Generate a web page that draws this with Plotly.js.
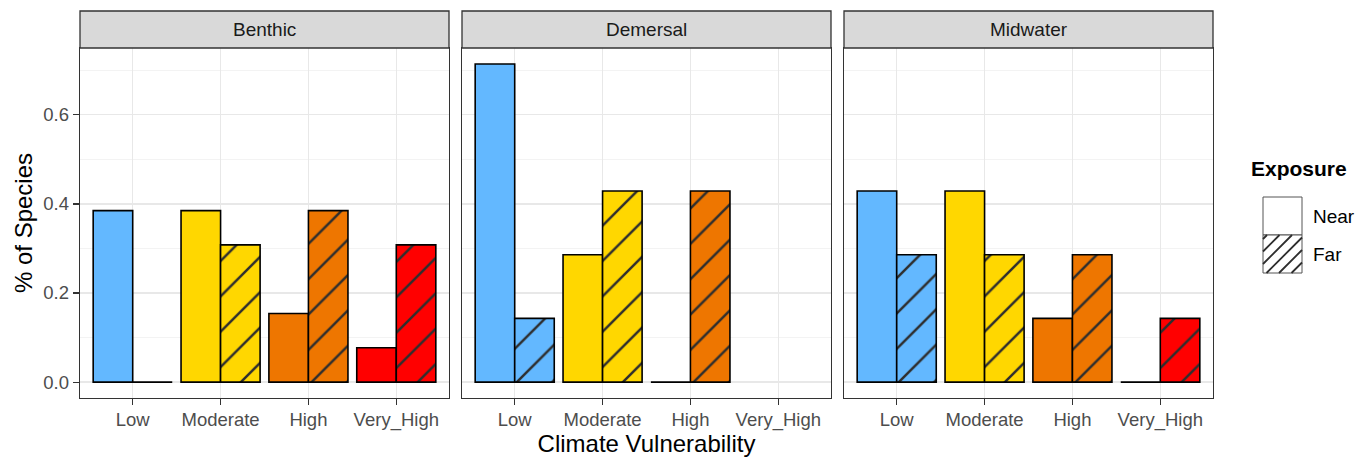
<!DOCTYPE html>
<html><head><meta charset="utf-8">
<script src="https://cdn.plot.ly/plotly-3.0.1.min.js"></script>
<style>html,body{margin:0;padding:0;background:#fff}#chart{width:1369px;height:457px}</style>
</head><body><div id="chart"></div>
<script>
// ---- data ----
const categories = ["Low", "Moderate", "High", "Very_High"];
const panels = ["Benthic", "Demersal", "Midwater"];
const exposures = ["Near", "Far"];
const benthicNear  = [0.385, 0.385, 0.154, 0.077];
const benthicFar   = [0.000, 0.308, 0.385, 0.308];
const demersalNear = [0.714, 0.286, 0.000, null];
const demersalFar  = [0.143, 0.429, 0.429, null];
const midwaterNear = [0.429, 0.429, 0.143, 0.000];
const midwaterFar  = [0.286, 0.286, 0.286, 0.143];
const categoryColors = ["#63B8FF", "#FFD700", "#EE7600", "#FF0000"];
const yTickVals = [0, 0.2, 0.4, 0.6];
const yMinorVals = [0.1, 0.3, 0.5, 0.7];

const panelValues = [
  [benthicNear, benthicFar],
  [demersalNear, demersalFar],
  [midwaterNear, midwaterFar]
];

// ---- layout constants ----
const W = 1369, H = 457;
const M = {l: 80, r: 156, t: 11, b: 59};
const PW = W - M.l - M.r, PH = H - M.t - M.b;
const px2x = px => (px - M.l) / PW;
const px2y = py => (H - M.b - py) / PH;
const panelPx = [[80, 449], [462, 831], [844, 1213]];
const stripBottom = 48;
const plotTopPaper = px2y(stripBottom);

const FONT = "Liberation Sans, Arial, sans-serif";
const barWidth = 0.45;
const offsets = [-barWidth / 2, barWidth / 2];
const HATCH = "#2E2E2E";

const traces = [];
panels.forEach((panel, k) => {
  const sfx = k === 0 ? "" : String(k + 1);
  exposures.forEach((exp, e) => {
    const vals = panelValues[k][e];
    // one trace per category so each bar has a scalar fill (needed for explicit hatch colours)
    categories.forEach((cat, i) => {
      const v = vals[i];
      if (v === null || v === undefined) return;
      const xPos = i + 1 + offsets[e];
      if (v === 0) {
        // zero-height bar: ggplot still draws its flat outline
        traces.push({
          type: "scatter", mode: "lines",
          x: [xPos - barWidth / 2, xPos + barWidth / 2], y: [v, v],
          xaxis: "x" + sfx, yaxis: "y" + sfx, showlegend: false, hoverinfo: "skip",
          line: {color: "#000000", width: 1.8}, cliponaxis: false
        });
        return;
      }
      traces.push({
        type: "bar",
        name: exp + " - " + cat,
        x: [xPos],
        y: [v],
        width: barWidth,
        xaxis: "x" + sfx,
        yaxis: "y" + sfx,
        showlegend: false,
        hoverinfo: "y",
        marker: {
          color: categoryColors[i],
          line: {color: "#000000", width: 1.6},
          pattern: e === 1
            ? {shape: "/", size: 25, solidity: 0.1, fgcolor: HATCH, bgcolor: categoryColors[i], fgopacity: 1, fillmode: "replace"}
            : {shape: ""}
        }
      });
    });
  });
});

const layout = {
  width: W, height: H,
  margin: M,
  paper_bgcolor: "#ffffff",
  plot_bgcolor: "#ffffff",
  font: {family: FONT, color: "#000000"},
  barmode: "overlay",
  showlegend: false,
  shapes: [],
  annotations: []
};

const yRange = [-0.0357, 0.75];
panels.forEach((panel, k) => {
  const sfx = k === 0 ? "" : String(k + 1);
  const dom = [px2x(panelPx[k][0]), px2x(panelPx[k][1])];
  layout["xaxis" + sfx] = {
    domain: dom,
    anchor: "y" + sfx,
    range: [0.4, 4.6],
    tickvals: categories.map((c, i) => i + 1),
    ticktext: categories,
    ticks: "outside", ticklen: 6, tickwidth: 1.2, tickcolor: "#333333",
    ticklabelstandoff: -2,
    tickfont: {family: FONT, size: 18.5, color: "#4D4D4D"},
    showgrid: true, gridcolor: "#E8E8E8", gridwidth: 1.3,
    zeroline: false,
    showline: true, mirror: true, linecolor: "#333333", linewidth: 1.3,
    fixedrange: true
  };
  layout["yaxis" + sfx] = {
    domain: [0, plotTopPaper],
    anchor: "x" + sfx,
    range: yRange,
    tickvals: yTickVals,
    tickformat: ".1f",
    showticklabels: k === 0,
    ticks: k === 0 ? "outside" : "",
    ticklen: 6, tickwidth: 1.2, tickcolor: "#333333",
    tickfont: {family: FONT, size: 18.5, color: "#4D4D4D"},
    showgrid: true, gridcolor: "#E8E8E8", gridwidth: 1.3,
    minor: {tickvals: yMinorVals, showgrid: true, gridcolor: "#F0F0F0", gridwidth: 0.8, ticks: ""},
    zeroline: false,
    showline: true, mirror: true, linecolor: "#333333", linewidth: 1.3,
    fixedrange: true
  };
  if (k > 0) layout["yaxis" + sfx].matches = "y";
  // strip
  layout.shapes.push({
    type: "rect", xref: "paper", yref: "paper",
    x0: dom[0], x1: dom[1], y0: plotTopPaper, y1: 1,
    fillcolor: "#D9D9D9", line: {color: "#333333", width: 1.3}, layer: "above"
  });
  layout.annotations.push({
    xref: "paper", yref: "paper", x: (dom[0] + dom[1]) / 2, y: (plotTopPaper + 1) / 2,
    text: panel, showarrow: false, xanchor: "center", yanchor: "middle",
    font: {family: FONT, size: 19, color: "#1A1A1A"}
  });
});

layout.yaxis.title = {text: "% of Species", font: {family: FONT, size: 24, color: "#000000"}, standoff: 4};
layout.xaxis2.title = {text: "Climate Vulnerability", font: {family: FONT, size: 24, color: "#000000"}, standoff: 5};

// ---- legend (drawn manually to mimic ggplot keys) ----
const keyL = 1263, keyR = 1302, keyTop = 197, keyMid = 235, keyBot = 273;
layout.annotations.push({
  xref: "paper", yref: "paper", x: px2x(1249), y: px2y(168), xanchor: "left", yanchor: "middle",
  text: "<b>Exposure</b>", showarrow: false, font: {family: FONT, size: 21, color: "#000000"}
});
exposures.forEach((exp, e) => {
  const top = e === 0 ? keyTop : keyMid, bot = e === 0 ? keyMid : keyBot;
  layout.shapes.push({
    type: "rect", xref: "paper", yref: "paper",
    x0: px2x(keyL), x1: px2x(keyR), y0: px2y(bot), y1: px2y(top),
    fillcolor: "#ffffff", line: {color: "#555555", width: 1}
  });
  layout.annotations.push({
    xref: "paper", yref: "paper", x: px2x(1311), y: px2y((top + bot) / 2), xanchor: "left", yanchor: "middle",
    text: exp, showarrow: false, font: {family: FONT, size: 19, color: "#000000"}
  });
});
// hatch lines in the "Far" key, clipped to the key box (pixel sizing)
(function () {
  const w = keyR - keyL, h = keyBot - keyMid, sp = 12.5;
  let d = "";
  for (let c = -h + 4; c < w + h; c += sp) {
    let x0 = c, y0 = 0, x1 = c + h, y1 = h;
    if (x0 < 0) { y0 = -x0; x0 = 0; }
    if (x1 > w) { y1 = h - (x1 - w); x1 = w; }
    if (y1 <= y0) continue;
    d += `M${x0.toFixed(2)},${y0.toFixed(2)}L${x1.toFixed(2)},${y1.toFixed(2)}`;
  }
  layout.shapes.push({
    type: "path", xref: "paper", yref: "paper",
    xsizemode: "pixel", ysizemode: "pixel",
    xanchor: px2x(keyL), yanchor: px2y(keyBot),
    path: d, line: {color: HATCH, width: 1.8}
  });
})();

Plotly.newPlot("chart", traces, layout, {staticPlot: true, displayModeBar: false});
</script>
</body></html>
